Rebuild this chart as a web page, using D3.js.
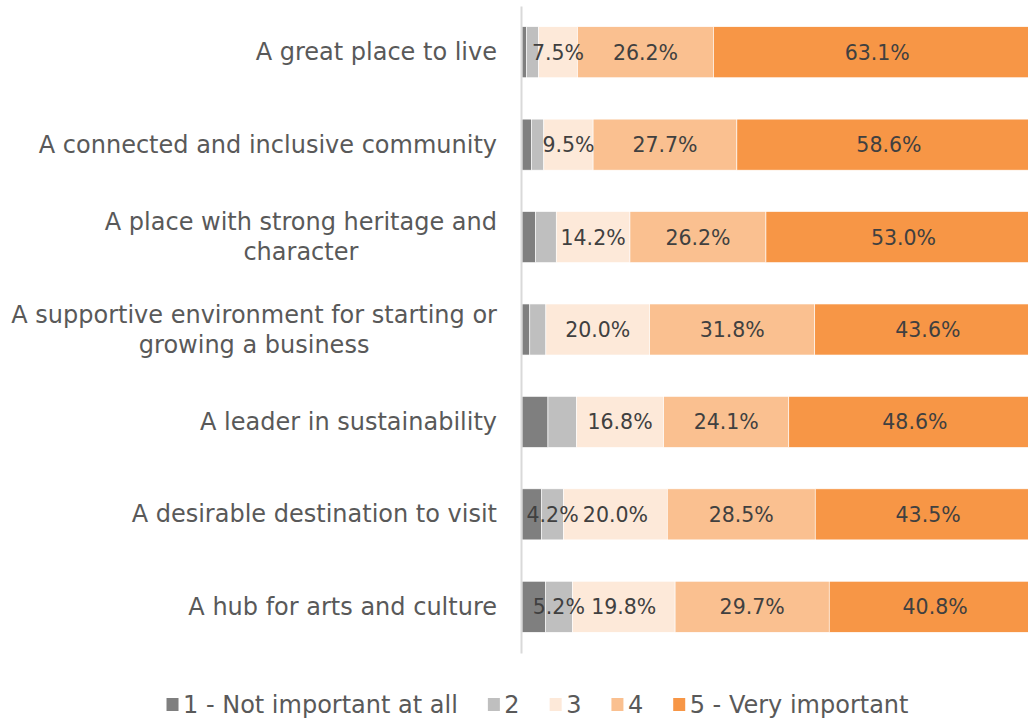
<!DOCTYPE html>
<html>
<head>
<meta charset="utf-8">
<script src="https://cdn.jsdelivr.net/npm/d3@7"></script>
<style>
  html, body { margin: 0; padding: 0; background: #fff; }
  svg { display: block; font-family: "DejaVu Sans", sans-serif; }
</style>
</head>
<body>
<svg id="chart" width="1028" height="719"></svg>
<script>
// Importance ratings, percent of respondents per statement
const categories = [
  "A great place to live",
  "A connected and inclusive community",
  "A place with strong heritage and\ncharacter",
  "A supportive environment for starting or\ngrowing a business",
  "A leader in sustainability",
  "A desirable destination to visit",
  "A hub for arts and culture"
];
const seriesNames = ["1 - Not important at all", "2", "3", "4", "5 - Very important"];
const rating1 = [0.9, 1.8, 2.6, 1.5, 5.0, 3.8, 4.5];
const rating2 = [2.3, 2.4, 4.0, 3.1, 5.5, 4.2, 5.2];
const rating3 = [7.5, 9.5, 14.2, 20.0, 16.8, 20.0, 19.8];
const rating4 = [26.2, 27.7, 26.2, 31.8, 24.1, 28.5, 29.7];
const rating5 = [63.1, 58.6, 53.0, 43.6, 48.6, 43.5, 40.8];
// rows where the "2" segment carries a value label
const rating2LabelledRows = ["A desirable destination to visit", "A hub for arts and culture"];

const colors = ["#7f7f7f", "#bfbfbf", "#fde9d9", "#fac090", "#f79646"];

const seriesValues = [rating1, rating2, rating3, rating4, rating5];
const table = categories.map((c, i) => {
  const row = { category: c };
  seriesNames.forEach((s, k) => { row[s] = seriesValues[k][i]; });
  return row;
});

const svg = d3.select("#chart");

const x = d3.scaleLinear().domain([0, 100]).range([522, 1041]);
const y = d3.scaleBand().domain(categories).range([6, 653])
  .paddingInner(0.448).paddingOuter(0.224);

const stacked = d3.stack().keys(seriesNames)(table);

// stacked bar segments
const layers = svg.append("g").selectAll("g")
  .data(stacked).join("g")
  .attr("fill", (d, i) => colors[i]);

layers.selectAll("rect")
  .data(d => d)
  .join("rect")
  .attr("x", p => x(p[0]))
  .attr("y", p => y(p.data.category))
  .attr("width", p => x(p[1]) - x(p[0]))
  .attr("height", y.bandwidth())
  .attr("stroke", "#ffffff")
  .attr("stroke-width", 0.6);

// value labels, drawn above all segments
const labelGroup = svg.append("g")
  .attr("fill", "#404040")
  .attr("font-size", 20.5)
  .attr("text-anchor", "middle");
stacked.forEach((layer, k) => {
  const shown = layer.filter(p => k >= 2 || (k === 1 && rating2LabelledRows.includes(p.data.category)));
  labelGroup.selectAll(null)
    .data(shown)
    .join("text")
    .attr("x", p => (x(p[0]) + x(p[1])) / 2)
    .attr("y", p => y(p.data.category) + y.bandwidth() / 2 + 7.5)
    .text(p => d3.format(".1f")(p[1] - p[0]) + "%");
});

// vertical category axis
const axis = svg.append("g")
  .attr("transform", "translate(521,0)")
  .call(d3.axisLeft(y).tickSize(0).tickFormat(""));
axis.select(".domain").attr("stroke", "#d9d9d9").attr("stroke-width", 2);

// category labels: block right-aligned, lines centred within the block
const labelRight = 497;
const lineHeight = 30;
const catGroup = svg.append("g")
  .attr("fill", "#595959")
  .attr("font-size", 24);

categories.forEach(c => {
  const lines = c.split("\n");
  const cy = y(c) + y.bandwidth() / 2;
  const t = catGroup.append("text").attr("text-anchor", "middle");
  const spans = lines.map((ln, j) => t.append("tspan")
    .attr("y", cy + 8 + (j - (lines.length - 1) / 2) * lineHeight)
    .text(ln));
  const widest = d3.max(spans, s => s.node().getComputedTextLength());
  spans.forEach(s => s.attr("x", labelRight - widest / 2));
});

// legend
const legend = svg.append("g").attr("font-size", 24).attr("fill", "#595959");
const sw = 12, swGap = 4.5, itemGap = 30, legendY = 704;
const items = legend.selectAll("g").data(seriesNames).join("g");
items.append("rect")
  .attr("width", sw).attr("height", sw + 1)
  .attr("y", legendY - sw / 2)
  .attr("fill", (d, i) => colors[i]);
items.append("text")
  .attr("x", sw + swGap)
  .attr("y", legendY + 8.5)
  .text(d => d);
let cursor = 0;
const offsets = [];
items.each(function () {
  offsets.push(cursor);
  const w = d3.select(this).select("text").node().getComputedTextLength();
  cursor += sw + swGap + w + itemGap;
});
const total = cursor - itemGap;
const legendLeft = 537.5 - total / 2;
items.attr("transform", (d, i) => `translate(${legendLeft + offsets[i]},0)`);
</script>
</body>
</html>
